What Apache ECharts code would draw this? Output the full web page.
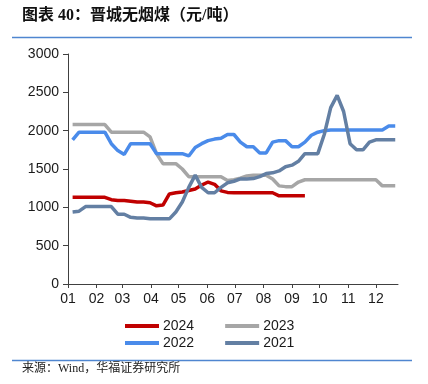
<!DOCTYPE html>
<html>
<head>
<meta charset="utf-8">
<script src="https://cdn.jsdelivr.net/npm/echarts@6/dist/echarts.min.js"></script>
<style>html,body{margin:0;padding:0;background:#fff;}#c{width:428px;height:384px;}</style>
</head>
<body>
<div id="c"></div>
<script>
// Weekly observation dates (MM-DD)
const weeks = ["01-06","01-13","01-20","01-27","02-03","02-10","02-17","02-24","03-03","03-10",
  "03-17","03-24","03-31","04-07","04-14","04-21","04-28","05-05","05-12","05-19",
  "05-26","06-02","06-09","06-16","06-23","06-30","07-07","07-14","07-21","07-28",
  "08-04","08-11","08-18","08-25","09-01","09-08","09-15","09-22","09-29","10-06",
  "10-13","10-20","10-27","11-03","11-10","11-17","11-24","12-01","12-08","12-15","12-22"];
const monthLabels = ["01","02","03","04","05","06","07","08","09","10","11","12"];
const seriesNames = ["2024","2023","2022","2021"];

const v2024 = [1130,1130,1130,1130,1130,1130,1100,1090,1090,1080,1070,1070,1060,1020,1030,1175,1190,1200,1220,1240,1290,1330,1300,1215,1195,1190,1190,1190,1190,1190,1190,1190,1150,1150,1150,1150,1150];
const v2023 = [2080,2080,2080,2080,2080,2080,1980,1980,1980,1980,1980,1980,1920,1700,1570,1570,1570,1500,1400,1400,1400,1400,1400,1400,1350,1360,1380,1410,1420,1420,1420,1370,1280,1270,1270,1330,1360,1360,1360,1360,1360,1360,1360,1360,1360,1360,1360,1360,1280,1280,1280];
const v2022 = [1880,1980,1980,1980,1980,1980,1830,1740,1690,1830,1830,1830,1830,1700,1700,1700,1700,1700,1670,1780,1830,1870,1890,1900,1950,1950,1850,1790,1790,1710,1710,1850,1870,1870,1790,1790,1850,1940,1980,2000,2010,2010,2010,2010,2010,2010,2010,2010,2010,2060,2060];
const v2021 = [940,950,1010,1010,1010,1010,1010,910,910,870,860,860,850,850,850,850,940,1070,1260,1420,1260,1190,1190,1260,1320,1340,1370,1370,1375,1400,1440,1450,1475,1530,1550,1600,1700,1700,1700,1950,2300,2460,2250,1830,1750,1750,1850,1880,1880,1880,1880];

const cum = [0,31,59,90,120,151,181,212,243,273,304,334];
function dayOf(s){ const p = s.split('-'); return cum[+p[0]-1] + (+p[1]) - 1; }
function pts(vals){ return vals.map((v,i)=>[dayOf(weeks[i]), v]); }

const colors = {"2024":"#C00000","2023":"#A6A6A6","2022":"#4A8BEA","2021":"#637FA3"};
const valsBy = {"2024":v2024,"2023":v2023,"2022":v2022,"2021":v2021};

const chart = echarts.init(document.getElementById('c'), null, {renderer:'canvas'});
const axisColor = '#404040';
const txt = '#1a1a1a';
const option = {
  animation:false,
  backgroundColor:'#fff',
  grid:{left:68, right:30, top:54, bottom:100},
  xAxis:{
    type:'value', min:0, max:358,
    axisLine:{show:true, onZero:false, lineStyle:{color:axisColor, width:1}},
    axisTick:{show:true, length:4, inside:false, customValues:cum, lineStyle:{color:axisColor}},
    axisLabel:{customValues:cum, margin:8, fontSize:14, color:txt, fontFamily:'Liberation Sans, Arial',
      formatter:function(v){ const i = cum.indexOf(Math.round(v)); return i>=0 ? monthLabels[i] : ''; }},
    splitLine:{show:false}
  },
  yAxis:{
    type:'value', min:0, max:3000, interval:500,
    axisLine:{show:true, lineStyle:{color:axisColor, width:1}},
    axisTick:{show:true, length:5, lineStyle:{color:axisColor}},
    axisLabel:{margin:9, fontSize:14, color:txt, fontFamily:'Liberation Sans, Arial',
      formatter:function(v){ return String(v); }},
    splitLine:{show:false}
  },
  legend:[
    {data:['2024','2023'], left:125, top:319, padding:0, itemWidth:34, itemHeight:4, itemGap:31, icon:'rect',
      textStyle:{fontSize:14, color:txt, fontFamily:'Liberation Sans, Arial', padding:[0,0,0,-1]}},
    {data:['2022','2021'], left:125, top:336, padding:0, itemWidth:34, itemHeight:4, itemGap:31, icon:'rect',
      textStyle:{fontSize:14, color:txt, fontFamily:'Liberation Sans, Arial', padding:[0,0,0,-1]}}
  ],
  series: seriesNames.map(n=>({
    name:n, type:'line', data:pts(valsBy[n]), symbol:'none', showSymbol:false,
    lineStyle:{color:colors[n], width:3.5}, itemStyle:{color:colors[n]}, z: 2
  })),
  graphic:[
    {type:'text', left:22, top:8, style:{text:'图表 40：晋城无烟煤（元/吨）', fontSize:16, fontWeight:'bold',
      fill:'#111', fontFamily:'Liberation Serif, Noto Sans CJK SC'}},
    {type:'line', shape:{x1:12, y1:37.5, x2:412, y2:37.5}, style:{stroke:'#4F86D0', lineWidth:1.5}},
    {type:'line', shape:{x1:12, y1:360.5, x2:412, y2:360.5}, style:{stroke:'#4F86D0', lineWidth:1.5}},
    {type:'text', left:22, top:363, style:{text:'来源：Wind，华福证券研究所', fontSize:12,
      fill:'#222', fontFamily:'Liberation Serif, Noto Sans CJK SC'}}
  ]
};
chart.setOption(option);
</script>
</body>
</html>
